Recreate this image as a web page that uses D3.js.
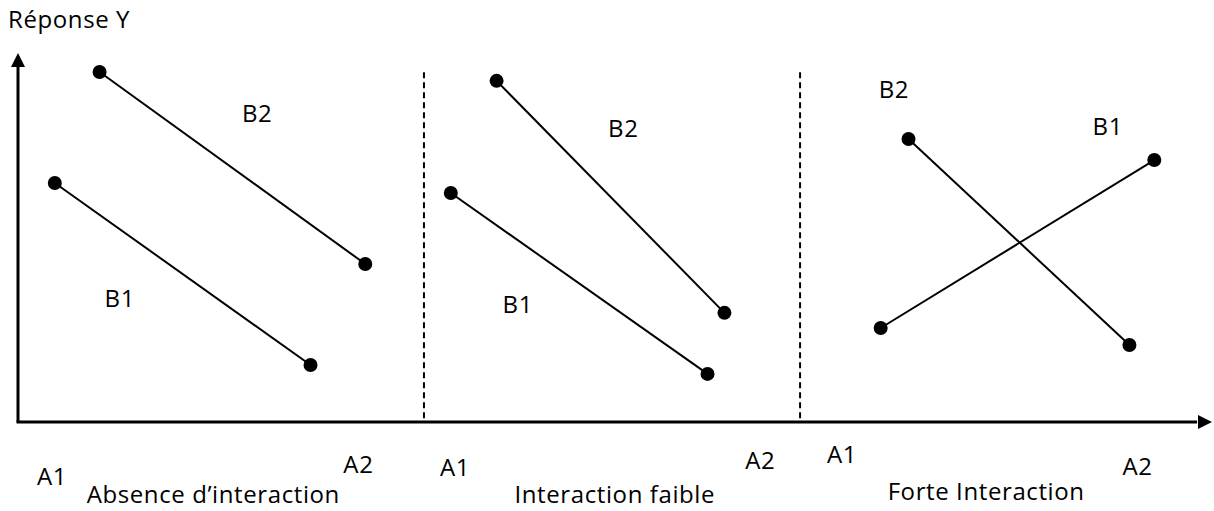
<!DOCTYPE html>
<html><head><meta charset="utf-8">
<script src="https://cdn.jsdelivr.net/npm/d3@7"></script>
<style>body{margin:0;background:#fff}svg{display:block}text{font-family:"Open Sans",sans-serif;fill:#000;letter-spacing:0.6px}</style>
</head><body><svg id="c" width="1214" height="511"></svg>
<script>
// Panels (interaction type)
const panels = ["Absence d\u2019interaction", "Interaction faible", "Forte Interaction"];
const series = ["B1", "B2"];
// x positions (A1, A2) of each series per panel, in schematic x units
const xB1 = [[0.37, 2.94], [4.35, 6.93], [8.67, 11.42]];
const xB2 = [[0.82, 3.49], [4.81, 7.10], [8.95, 11.17]];
// response values (A1, A2)
const yB1 = [[64.6, 15.4], [61.9, 13.0], [25.4, 70.8]];
const yB2 = [[94.6, 42.7], [92.2, 29.5], [76.5, 20.8]];
const dividers = [4.08, 7.86];
const yLabel = "Réponse Y";

const svg = d3.select("#c");
const x = d3.scaleLinear().domain([0, 12]).range([18, 1212]);
const y = d3.scaleLinear().domain([0, 100]).range([422, 52]);

// dividers
svg.selectAll(".div").data(dividers).join("line")
  .attr("x1", d => x(d)).attr("x2", d => x(d))
  .attr("y1", y(94.5)).attr("y2", y(0))
  .attr("stroke", "#000").attr("stroke-width", 2).attr("stroke-dasharray", "6,4");

// axes
svg.append("line").attr("x1", x(0)).attr("x2", x(0)).attr("y1", y(0)).attr("y2", y(98))
  .attr("stroke", "#000").attr("stroke-width", 3);
svg.append("line").attr("x1", x(0) - 1.5).attr("x2", x(11.85)).attr("y1", y(0)).attr("y2", y(0))
  .attr("stroke", "#000").attr("stroke-width", 3);
svg.append("path").attr("d", `M${x(0)},${y(100)+1} L${x(0)-7},${y(100)+15} L${x(0)+7},${y(100)+15}Z`).attr("fill", "#000");
svg.append("path").attr("d", `M${x(12)},${y(0)} L${x(12)-14},${y(0)-7} L${x(12)-14},${y(0)+7}Z`).attr("fill", "#000");

// series lines & points
const segs = [];
panels.forEach((p, i) => {
  segs.push({ s: "B1", xs: xB1[i], ys: yB1[i] });
  segs.push({ s: "B2", xs: xB2[i], ys: yB2[i] });
});
const g = svg.append("g");
g.selectAll("line.s").data(segs).join("line")
  .attr("x1", d => x(d.xs[0])).attr("x2", d => x(d.xs[1]))
  .attr("y1", d => y(d.ys[0])).attr("y2", d => y(d.ys[1]))
  .attr("stroke", "#000").attr("stroke-width", 2);
const pts = segs.flatMap(d => [[d.xs[0], d.ys[0]], [d.xs[1], d.ys[1]]]);
g.selectAll("circle").data(pts).join("circle")
  .attr("cx", d => x(d[0])).attr("cy", d => y(d[1])).attr("r", 7).attr("fill", "#000");

// text labels: [text, xUnit, yUnit]
const seriesLabels = [
  ["B2", 2.25, 81], ["B1", 0.87, 31],
  ["B2", 5.93, 77], ["B1", 4.87, 29.5],
  ["B2", 8.65, 87.5], ["B1", 10.8, 77.5]
];
const aLabels = [
  ["A1", 0.19, -17.0], ["A2", 3.27, -13.8],
  ["A1", 4.24, -14.6], ["A2", 7.31, -12.7],
  ["A1", 8.13, -11.1], ["A2", 11.1, -14.3]
];
const panelLabelPos = [[0.69, -22.0], [4.99, -22.0], [8.74, -21.0]];

const fs = 24;
svg.append("text").attr("x", 8).attr("y", 28).attr("font-size", fs).text(yLabel);
svg.selectAll("text.sl").data(seriesLabels).join("text").attr("class", "sl")
  .attr("x", d => x(d[1])).attr("y", d => y(d[2])).attr("font-size", fs).text(d => d[0]);
svg.selectAll("text.al").data(aLabels).join("text").attr("class", "al")
  .attr("x", d => x(d[1])).attr("y", d => y(d[2])).attr("font-size", fs).text(d => d[0]);
svg.selectAll("text.pl").data(panels).join("text").attr("class", "pl")
  .attr("x", (d, i) => x(panelLabelPos[i][0])).attr("y", (d, i) => y(panelLabelPos[i][1]))
  .attr("font-size", fs).text(d => d);
</script></body></html>
